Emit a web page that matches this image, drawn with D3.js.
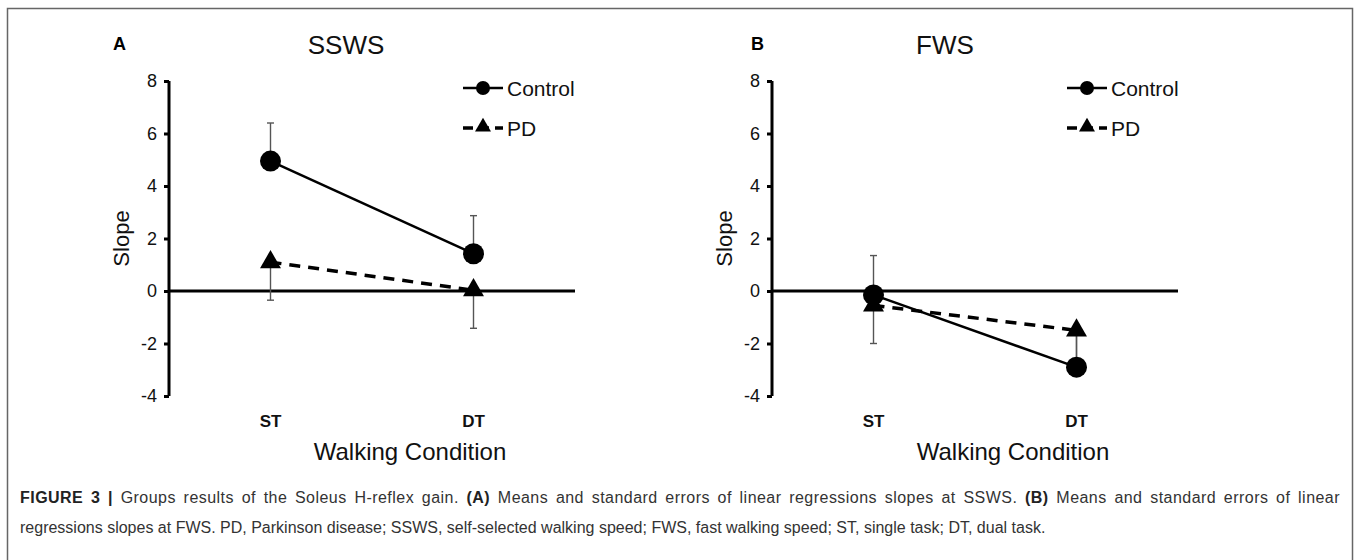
<!DOCTYPE html>
<html>
<head>
<meta charset="utf-8">
<script src="https://d3js.org/d3.v7.min.js"></script>
<style>
  body { margin: 0; background: #fff; }
  text { font-family: "Liberation Sans", Arial, sans-serif; }
</style>
</head>
<body>
<div id="chart"></div>
<script>
// data
const conditions = ["ST", "DT"];
const yTicks = [-4, -2, 0, 2, 4, 6, 8];

const controlSSWS = [4.95, 1.42];
const controlSSWSse = [1.45, 1.45];
const pdSSWS = [1.1, 0.03];
const pdSSWSse = [1.45, 1.45];

const controlFWS = [-0.15, -2.9];
const controlFWSse = [1.5, 1.3];
const pdFWS = [-0.55, -1.5];
const pdFWSse = [1.45, 1.2];

const W = 1357, H = 560;

const svg = d3.select("#chart")
    .append("svg")
    .attr("width", W)
    .attr("height", H);

// figure frame
svg.append("rect")
    .attr("x", 7.5)
    .attr("y", 8.5)
    .attr("width", 1345)
    .attr("height", 560)
    .attr("fill", "none")
    .attr("stroke", "#666")
    .attr("stroke-width", 1.5);

function panel(opts) {
    const g = svg.append("g");
    const left = opts.left, right = opts.left + 406;
    const top = 81, bottom = 396;

    const x = d3.scalePoint()
        .domain(conditions)
        .range([left, right])
        .padding(0.5);

    const y = d3.scaleLinear()
        .domain([-4, 8])
        .range([bottom, top]);

    // y axis
    const yAxis = g.append("g")
        .attr("transform", `translate(${left}, 0)`)
        .call(d3.axisLeft(y).tickValues(yTicks).tickFormat(d => String(d))
            .tickSize(5).tickSizeOuter(0).tickPadding(7));
    yAxis.select(".domain").attr("stroke-width", 3).attr("d", `M0,${top}V${bottom}`);
    yAxis.selectAll(".tick line").attr("stroke-width", 3);
    yAxis.selectAll(".tick text")
        .style("font-size", "18px")
        .attr("fill", "#111");

    // zero line
    g.append("line")
        .attr("x1", left).attr("x2", right)
        .attr("y1", y(0)).attr("y2", y(0))
        .attr("stroke", "#000")
        .attr("stroke-width", 3);

    // category labels
    g.selectAll(".cat")
        .data(conditions)
        .enter()
        .append("text")
        .attr("class", "cat")
        .attr("x", d => x(d))
        .attr("y", 427)
        .attr("text-anchor", "middle")
        .style("font-size", "17px")
        .style("font-weight", "bold")
        .attr("fill", "#111")
        .text(d => d);

    g.append("text")
        .attr("x", opts.xTitle)
        .attr("y", 460)
        .attr("text-anchor", "middle")
        .style("font-size", "24px")
        .attr("fill", "#111")
        .text("Walking Condition");

    g.append("text")
        .attr("transform", `translate(${left - 40}, ${(top + bottom) / 2}) rotate(-90)`)
        .attr("text-anchor", "middle")
        .style("font-size", "22px")
        .attr("fill", "#111")
        .text("Slope");

    // panel letter and title
    g.append("text")
        .attr("x", opts.letterX)
        .attr("y", 50)
        .style("font-size", "18px")
        .style("font-weight", "bold")
        .text(opts.letter);

    g.append("text")
        .attr("x", opts.titleX)
        .attr("y", 54)
        .attr("text-anchor", "middle")
        .style("font-size", "26px")
        .attr("fill", "#111")
        .text(opts.title);

    const ctrl = conditions.map((c, i) => ({c, v: opts.control[i], se: opts.controlSe[i]}));
    const pd = conditions.map((c, i) => ({c, v: opts.pd[i], se: opts.pdSe[i]}));

    // error bars: control upward, PD downward
    const err = g.append("g").attr("stroke", "#555").attr("stroke-width", 1.4);
    ctrl.forEach(d => {
        err.append("line").attr("x1", x(d.c)).attr("x2", x(d.c))
            .attr("y1", y(d.v)).attr("y2", y(d.v + d.se));
        err.append("line").attr("x1", x(d.c) - 3.5).attr("x2", x(d.c) + 3.5)
            .attr("y1", y(d.v + d.se)).attr("y2", y(d.v + d.se));
    });
    pd.forEach(d => {
        err.append("line").attr("x1", x(d.c)).attr("x2", x(d.c))
            .attr("y1", y(d.v)).attr("y2", y(d.v - d.se));
        err.append("line").attr("x1", x(d.c) - 3.5).attr("x2", x(d.c) + 3.5)
            .attr("y1", y(d.v - d.se)).attr("y2", y(d.v - d.se));
    });

    const line = d3.line().x(d => x(d.c)).y(d => y(d.v));

    g.append("path")
        .datum(pd)
        .attr("d", line)
        .attr("fill", "none")
        .attr("stroke", "#000")
        .attr("stroke-width", 3.5)
        .attr("stroke-dasharray", "11,8");

    g.append("path")
        .datum(ctrl)
        .attr("d", line)
        .attr("fill", "none")
        .attr("stroke", "#000")
        .attr("stroke-width", 2.5);

    const tri = d3.symbol().type(d3.symbolTriangle).size(190);
    g.selectAll(".tri")
        .data(pd)
        .enter()
        .append("path")
        .attr("class", "tri")
        .attr("transform", d => `translate(${x(d.c)}, ${y(d.v)})`)
        .attr("d", tri)
        .attr("fill", "#000");

    g.selectAll(".dot")
        .data(ctrl)
        .enter()
        .append("circle")
        .attr("class", "dot")
        .attr("cx", d => x(d.c))
        .attr("cy", d => y(d.v))
        .attr("r", 10.5)
        .attr("fill", "#000");

    // legend
    const lx = opts.legendX;
    const lg = g.append("g");
    lg.append("line").attr("x1", lx).attr("x2", lx + 40).attr("y1", 88).attr("y2", 88)
        .attr("stroke", "#000").attr("stroke-width", 2.5);
    lg.append("circle").attr("cx", lx + 20).attr("cy", 88).attr("r", 7).attr("fill", "#000");
    lg.append("text").attr("x", lx + 44).attr("y", 95.5)
        .style("font-size", "21px").attr("fill", "#111").text("Control");

    lg.append("line").attr("x1", lx).attr("x2", lx + 40).attr("y1", 128).attr("y2", 128)
        .attr("stroke", "#000").attr("stroke-width", 3.5).attr("stroke-dasharray", "10,6");
    lg.append("path").attr("transform", `translate(${lx + 20}, 127)`)
        .attr("d", d3.symbol().type(d3.symbolTriangle).size(110)).attr("fill", "#000");
    lg.append("text").attr("x", lx + 44).attr("y", 135.5)
        .style("font-size", "21px").attr("fill", "#111").text("PD");
}

panel({
    left: 169, letter: "A", letterX: 113, title: "SSWS", titleX: 346,
    xTitle: 410, legendX: 463,
    control: controlSSWS, controlSe: controlSSWSse, pd: pdSSWS, pdSe: pdSSWSse
});

panel({
    left: 772, letter: "B", letterX: 751, title: "FWS", titleX: 945,
    xTitle: 1013, legendX: 1067,
    control: controlFWS, controlSe: controlFWSse, pd: pdFWS, pdSe: pdFWSse
});

// caption, first line justified to the frame width
const cap = svg.append("text")
    .attr("x", 20)
    .attr("y", 503)
    .style("font-size", "16px")
    .attr("fill", "#333");
cap.append("tspan").style("font-weight", "bold").attr("fill", "#222").text("FIGURE 3 | ");
cap.append("tspan").text("Groups results of the Soleus H-reflex gain. ");
cap.append("tspan").style("font-weight", "bold").attr("fill", "#222").text("(A)");
cap.append("tspan").text(" Means and standard errors of linear regressions slopes at SSWS. ");
cap.append("tspan").style("font-weight", "bold").attr("fill", "#222").text("(B)");
cap.append("tspan").text(" Means and standard errors of linear");

const natural = cap.node().getComputedTextLength();
const capText = cap.text();
const spaces = (capText.match(/ /g) || []).length;
const extra = 1320 - natural;
cap.style("word-spacing", `${extra * 0.5 / spaces}px`)
    .style("letter-spacing", `${extra * 0.5 / capText.length}px`);

svg.append("text")
    .attr("x", 20)
    .attr("y", 533)
    .style("font-size", "16px")
    .attr("fill", "#333")
    .text("regressions slopes at FWS. PD, Parkinson disease; SSWS, self-selected walking speed; FWS, fast walking speed; ST, single task; DT, dual task.");
</script>
</body>
</html>
